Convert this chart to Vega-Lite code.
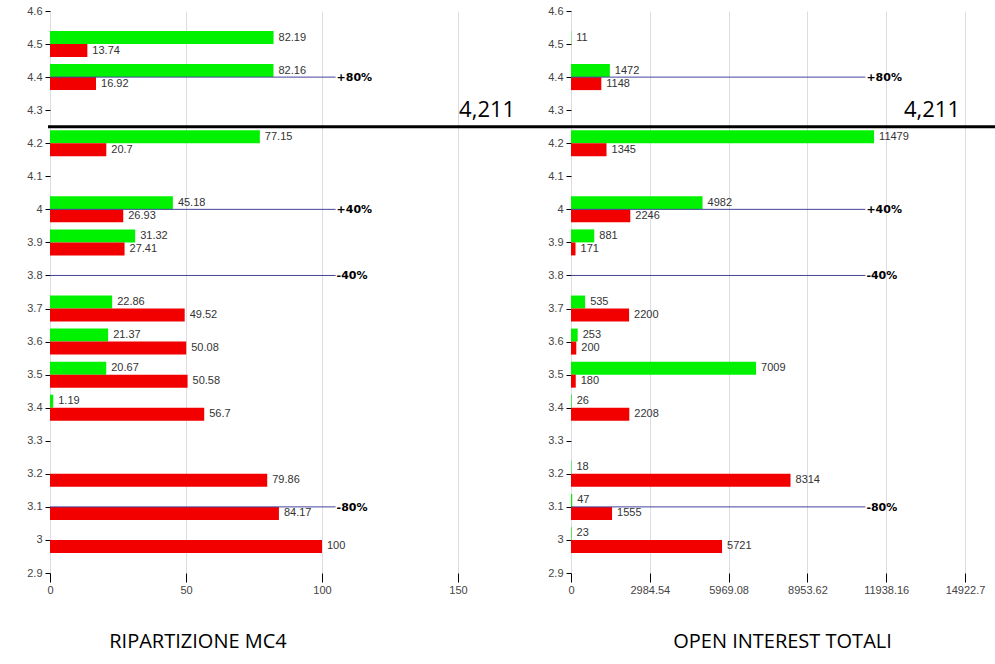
{
  "$schema": "https://vega.github.io/schema/vega-lite/v6.json",
  "background": "white",
  "padding": {"left": 26, "top": 5, "right": 0, "bottom": 5},
  "bounds": "flush",
  "spacing": 113,
  "config": {
    "view": {"stroke": null},
    "font": "Liberation Sans",
    "axisX": {
      "domain": false,
      "grid": true,
      "gridColor": "#dcdce4",
      "tickSize": 9,
      "tickColor": "#000",
      "labelPadding": 2,
      "labelFontSize": 11,
      "labelColor": "#444",
      "labelFlush": false,
      "labelOverlap": false,
      "titleFont": "Open Sans",
      "titleFontSize": 20,
      "titleFontWeight": "normal",
      "titleColor": "#000",
      "titleBaseline": "alphabetic",
      "titleAlign": "center",
      "titleY": 74
    },
    "axisY": {
      "domain": false,
      "grid": false,
      "tickSize": 5,
      "tickColor": "#000",
      "labelPadding": 3,
      "labelFontSize": 11,
      "labelColor": "#444",
      "labelOverlap": false,
      "labelFlush": false
    }
  },
  "datasets": {
    "mc4": [
      {"level": 4.5, "side": "Call", "value": 82.19},
      {"level": 4.5, "side": "Put", "value": 13.74},
      {"level": 4.4, "side": "Call", "value": 82.16},
      {"level": 4.4, "side": "Put", "value": 16.92},
      {"level": 4.2, "side": "Call", "value": 77.15},
      {"level": 4.2, "side": "Put", "value": 20.7},
      {"level": 4.0, "side": "Call", "value": 45.18},
      {"level": 4.0, "side": "Put", "value": 26.93},
      {"level": 3.9, "side": "Call", "value": 31.32},
      {"level": 3.9, "side": "Put", "value": 27.41},
      {"level": 3.7, "side": "Call", "value": 22.86},
      {"level": 3.7, "side": "Put", "value": 49.52},
      {"level": 3.6, "side": "Call", "value": 21.37},
      {"level": 3.6, "side": "Put", "value": 50.08},
      {"level": 3.5, "side": "Call", "value": 20.67},
      {"level": 3.5, "side": "Put", "value": 50.58},
      {"level": 3.4, "side": "Call", "value": 1.19},
      {"level": 3.4, "side": "Put", "value": 56.7},
      {"level": 3.2, "side": "Put", "value": 79.86},
      {"level": 3.1, "side": "Put", "value": 84.17},
      {"level": 3.0, "side": "Put", "value": 100}
    ],
    "oi": [
      {"level": 4.5, "side": "Call", "value": 11},
      {"level": 4.4, "side": "Call", "value": 1472},
      {"level": 4.4, "side": "Put", "value": 1148},
      {"level": 4.2, "side": "Call", "value": 11479},
      {"level": 4.2, "side": "Put", "value": 1345},
      {"level": 4.0, "side": "Call", "value": 4982},
      {"level": 4.0, "side": "Put", "value": 2246},
      {"level": 3.9, "side": "Call", "value": 881},
      {"level": 3.9, "side": "Put", "value": 171},
      {"level": 3.7, "side": "Call", "value": 535},
      {"level": 3.7, "side": "Put", "value": 2200},
      {"level": 3.6, "side": "Call", "value": 253},
      {"level": 3.6, "side": "Put", "value": 200},
      {"level": 3.5, "side": "Call", "value": 7009},
      {"level": 3.5, "side": "Put", "value": 180},
      {"level": 3.4, "side": "Call", "value": 26},
      {"level": 3.4, "side": "Put", "value": 2208},
      {"level": 3.2, "side": "Call", "value": 18},
      {"level": 3.2, "side": "Put", "value": 8314},
      {"level": 3.1, "side": "Call", "value": 47},
      {"level": 3.1, "side": "Put", "value": 1555},
      {"level": 3.0, "side": "Call", "value": 23},
      {"level": 3.0, "side": "Put", "value": 5721}
    ],
    "levels": [
      {"level": 4.4, "label": "+80%"},
      {"level": 4.0, "label": "+40%"},
      {"level": 3.8, "label": "-40%"},
      {"level": 3.1, "label": "-80%"}
    ],
    "cut": [
      {"level": 4.25, "label": "4,211"}
    ]
  },
  "hconcat": [
    {
      "width": 408,
      "height": 562,
      "data": {"name": "mc4"},
      "layer": [
        {
          "transform": [{"filter": "datum.side === 'Call'"}],
          "layer": [
            {
              "mark": {"type": "bar", "orient": "horizontal", "height": 13, "yOffset": -6.5, "color": "#00f200"},
              "encoding": {
                "y": {
                  "field": "level", "type": "quantitative",
                  "scale": {"domain": [2.9, 4.6], "nice": false, "zero": false, "padding": 0},
                  "axis": {"values": [2.9, 3, 3.1, 3.2, 3.3, 3.4, 3.5, 3.6, 3.7, 3.8, 3.9, 4, 4.1, 4.2, 4.3, 4.4, 4.5, 4.6], "tickCount": 20, "format": ".1~f", "title": null}
                },
                "x": {
                  "field": "value", "type": "quantitative", "stack": null,
                  "scale": {"domain": [0, 150], "nice": false},
                  "axis": {"values": [0, 50, 100, 150], "format": "d", "title": "RIPARTIZIONE MC4", "titleX": 147.5}
                }
              }
            },
            {
              "mark": {"type": "text", "align": "left", "baseline": "middle", "dx": 5, "yOffset": -6.5, "fontSize": 11, "color": "#333"},
              "encoding": {
                "y": {"field": "level", "type": "quantitative"},
                "x": {"field": "value", "type": "quantitative"},
                "text": {"field": "value", "type": "quantitative", "format": "~f"}
              }
            }
          ]
        },
        {
          "transform": [{"filter": "datum.side === 'Put'"}],
          "layer": [
            {
              "mark": {"type": "bar", "orient": "horizontal", "height": 13, "yOffset": 6.5, "color": "#f20000"},
              "encoding": {
                "y": {"field": "level", "type": "quantitative"},
                "x": {"field": "value", "type": "quantitative", "stack": null}
              }
            },
            {
              "mark": {"type": "text", "align": "left", "baseline": "middle", "dx": 5, "yOffset": 6.5, "fontSize": 11, "color": "#333"},
              "encoding": {
                "y": {"field": "level", "type": "quantitative"},
                "x": {"field": "value", "type": "quantitative"},
                "text": {"field": "value", "type": "quantitative", "format": "~f"}
              }
            }
          ]
        },
        {
          "data": {"name": "levels"},
          "mark": {"type": "rule", "color": "#44449a", "strokeWidth": 1},
          "encoding": {
            "y": {"field": "level", "type": "quantitative"},
            "x": {"datum": 0},
            "x2": {"datum": 105}
          }
        },
        {
          "data": {"name": "levels"},
          "mark": {"type": "text", "align": "left", "baseline": "middle", "dx": 1, "dy": 1, "font": "DejaVu Sans", "fontWeight": "bold", "fontSize": 11, "color": "#000"},
          "encoding": {
            "y": {"field": "level", "type": "quantitative"},
            "x": {"datum": 105},
            "text": {"field": "label"}
          }
        },
        {
          "data": {"name": "cut"},
          "mark": {"type": "text", "align": "right", "baseline": "alphabetic", "dy": -10, "font": "Open Sans", "fontSize": 22, "color": "#000"},
          "encoding": {
            "y": {"field": "level", "type": "quantitative"},
            "x": {"datum": 171},
            "text": {"field": "label"}
          }
        }
      ]
    },
    {
      "width": 394,
      "height": 562,
      "data": {"name": "oi"},
      "layer": [
        {
          "transform": [{"filter": "datum.side === 'Call'"}],
          "layer": [
            {
              "mark": {"type": "bar", "orient": "horizontal", "height": 13, "yOffset": -6.5, "color": "#00f200"},
              "encoding": {
                "y": {
                  "field": "level", "type": "quantitative",
                  "scale": {"domain": [2.9, 4.6], "nice": false, "zero": false, "padding": 0},
                  "axis": {"values": [2.9, 3, 3.1, 3.2, 3.3, 3.4, 3.5, 3.6, 3.7, 3.8, 3.9, 4, 4.1, 4.2, 4.3, 4.4, 4.5, 4.6], "tickCount": 20, "format": ".1~f", "title": null}
                },
                "x": {
                  "field": "value", "type": "quantitative", "stack": null,
                  "scale": {"domain": [0, 14922.7], "nice": false},
                  "axis": {"values": [0, 2984.54, 5969.08, 8953.62, 11938.16, 14922.7], "format": ".2~f", "title": "OPEN INTEREST TOTALI", "titleX": 211}
                }
              }
            },
            {
              "mark": {"type": "text", "align": "left", "baseline": "middle", "dx": 5, "yOffset": -6.5, "fontSize": 11, "color": "#333"},
              "encoding": {
                "y": {"field": "level", "type": "quantitative"},
                "x": {"field": "value", "type": "quantitative"},
                "text": {"field": "value", "type": "quantitative", "format": "~f"}
              }
            }
          ]
        },
        {
          "transform": [{"filter": "datum.side === 'Put'"}],
          "layer": [
            {
              "mark": {"type": "bar", "orient": "horizontal", "height": 13, "yOffset": 6.5, "color": "#f20000"},
              "encoding": {
                "y": {"field": "level", "type": "quantitative"},
                "x": {"field": "value", "type": "quantitative", "stack": null}
              }
            },
            {
              "mark": {"type": "text", "align": "left", "baseline": "middle", "dx": 5, "yOffset": 6.5, "fontSize": 11, "color": "#333"},
              "encoding": {
                "y": {"field": "level", "type": "quantitative"},
                "x": {"field": "value", "type": "quantitative"},
                "text": {"field": "value", "type": "quantitative", "format": "~f"}
              }
            }
          ]
        },
        {
          "data": {"name": "levels"},
          "mark": {"type": "rule", "color": "#44449a", "strokeWidth": 1},
          "encoding": {
            "y": {"field": "level", "type": "quantitative"},
            "x": {"datum": 0},
            "x2": {"datum": 11150}
          }
        },
        {
          "data": {"name": "levels"},
          "mark": {"type": "text", "align": "left", "baseline": "middle", "dx": 1, "dy": 1, "font": "DejaVu Sans", "fontWeight": "bold", "fontSize": 11, "color": "#000"},
          "encoding": {
            "y": {"field": "level", "type": "quantitative"},
            "x": {"datum": 11150},
            "text": {"field": "label"}
          }
        },
        {
          "data": {"name": "cut"},
          "mark": {"type": "rule", "color": "#000", "strokeWidth": 3},
          "encoding": {
            "y": {"field": "level", "type": "quantitative"},
            "x": {"datum": -19808},
            "x2": {"datum": 16059}
          }
        },
        {
          "data": {"name": "cut"},
          "mark": {"type": "text", "align": "right", "baseline": "alphabetic", "dy": -10, "font": "Open Sans", "fontSize": 22, "color": "#000"},
          "encoding": {
            "y": {"field": "level", "type": "quantitative"},
            "x": {"datum": 14733},
            "text": {"field": "label"}
          }
        }
      ]
    }
  ]
}
